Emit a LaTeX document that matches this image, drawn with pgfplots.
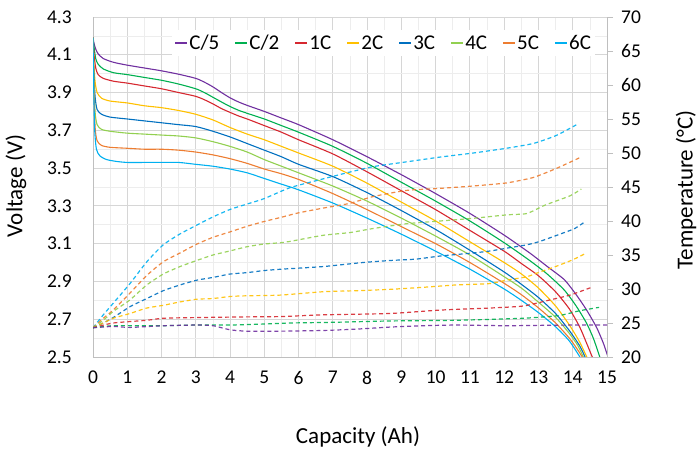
\documentclass[border=0pt]{standalone}
\usepackage{fontspec}
\setmainfont{Carlito}
\usepackage{pgfplots}
\pgfplotsset{compat=1.18}
\definecolor{cPur}{HTML}{7030A0}
\definecolor{cGrn}{HTML}{00B050}
\definecolor{cRed}{HTML}{D62830}
\definecolor{cYel}{HTML}{FFC000}
\definecolor{cBlu}{HTML}{0070C0}
\definecolor{cLgr}{HTML}{92D050}
\definecolor{cOra}{HTML}{ED7D31}
\definecolor{cLbl}{HTML}{00B0F0}
\begin{document}
\begin{tikzpicture}
\useasboundingbox (0pt,0pt) rectangle (698pt,452pt);
\begin{axis}[
  at={(93pt,95pt)}, anchor=south west,
  scale only axis, width=514pt, height=340pt,
  xmin=0, xmax=15, ymin=2.5, ymax=4.3,
  xtick={0,1,...,15},
  minor xtick={0.5,1.5,2.5,3.5,4.5,5.5,6.5,7.5,8.5,9.5,10.5,11.5,12.5,13.5,14.5},
  ytick={2.5,2.7,2.9,3.1,3.3,3.5,3.7,3.9,4.1,4.3},
  minor ytick={2.6,2.8,3.0,3.2,3.4,3.6,3.8,4.0,4.2},
  grid=both,
  major grid style={color=black!16, line width=0.9pt},
  minor grid style={color=black!7, line width=0.7pt},
  axis x line*=bottom, axis y line*=left,
  axis line style={-, color=black!25, line width=0.9pt},
  major tick length=0pt, minor tick length=0pt,
  /pgf/number format/assume math mode=true,
  ticklabel style={font=\fontsize{19.5}{19.5}\selectfont},
  yticklabel style={anchor=east, inner sep=0pt, xshift=-21pt,
    /pgf/number format/fixed, /pgf/number format/fixed zerofill, /pgf/number format/precision=1},
  xticklabel style={anchor=north, inner sep=0pt, yshift=-14pt},
  legend columns=8,
  legend style={draw=none, fill=white, at={(0.978,0.9235)}, anchor=east,
    font=\fontsize{21}{21}\selectfont, inner sep=3pt,
    nodes={inner xsep=1.5pt, inner ysep=2pt},
    /tikz/every even column/.append style={column sep=14pt}},
  legend image code/.code={\draw[#1] (0pt,0pt) -- (12pt,0pt);},
  every axis plot/.append style={line width=1.1pt, smooth, tension=0.4},
]
\addplot[cPur] coordinates {
(0,4.19)(0.03,4.16)(0.08,4.13)(0.15,4.105)(0.3,4.08)(0.6,4.06)(1,4.045)(1.5,4.03)(2,4.015)(2.5,3.997)(3,3.975)(3.25,3.955)(3.5,3.93)(3.75,3.9)(4,3.872)(4.25,3.85)(4.5,3.832)(5,3.80)(5.5,3.765)(6,3.73)(7,3.65)(8,3.56)(9,3.465)(10,3.365)(11,3.26)(12,3.145)(12.75,3.05)(13.25,2.98)(13.75,2.91)(14.1,2.83)(14.4,2.75)(14.7,2.655)(14.9,2.57)(15.03,2.5)};
\addlegendentry{C/5}
\addplot[cGrn] coordinates {
(0,4.19)(0.03,4.14)(0.08,4.08)(0.15,4.05)(0.3,4.025)(0.6,4.005)(1,3.995)(1.5,3.98)(2,3.965)(2.5,3.945)(3,3.92)(3.25,3.9)(3.5,3.875)(3.75,3.85)(4,3.826)(4.25,3.806)(4.5,3.79)(5,3.76)(5.5,3.725)(6,3.69)(7,3.615)(8,3.525)(9,3.425)(10,3.325)(11,3.22)(12,3.105)(12.75,3.01)(13.25,2.94)(13.75,2.855)(14.1,2.77)(14.4,2.68)(14.6,2.6)(14.79,2.5)};
\addlegendentry{C/2}
\addplot[cRed] coordinates {
(0,4.19)(0.03,4.1)(0.08,4.03)(0.15,3.995)(0.3,3.975)(0.6,3.96)(1,3.95)(1.5,3.935)(2,3.92)(2.5,3.9)(3,3.88)(3.25,3.862)(3.5,3.84)(3.75,3.815)(4,3.795)(4.25,3.776)(4.5,3.76)(5,3.725)(5.5,3.69)(6,3.65)(7,3.575)(8,3.48)(9,3.38)(10,3.28)(11,3.17)(12,3.06)(12.5,2.995)(13,2.93)(13.5,2.845)(13.9,2.755)(14.2,2.66)(14.4,2.575)(14.57,2.5)};
\addlegendentry{1C}
\addplot[cYel] coordinates {
(0,4.19)(0.02,4.07)(0.06,3.96)(0.12,3.9)(0.25,3.87)(0.5,3.855)(1,3.845)(1.5,3.83)(2,3.82)(2.5,3.805)(3,3.785)(3.5,3.755)(4,3.715)(4.5,3.68)(5,3.65)(5.5,3.615)(6,3.58)(7,3.51)(8,3.42)(9,3.32)(10,3.22)(11,3.11)(12,3.0)(12.5,2.94)(13,2.865)(13.5,2.77)(13.9,2.67)(14.2,2.58)(14.41,2.5)};
\addlegendentry{2C}
\addplot[cBlu] coordinates {
(0,4.19)(0.02,4.04)(0.06,3.88)(0.12,3.81)(0.25,3.785)(0.5,3.77)(1,3.76)(1.5,3.75)(2,3.74)(2.5,3.73)(3,3.72)(3.5,3.695)(4,3.665)(4.5,3.63)(5,3.595)(5.5,3.56)(6,3.52)(7,3.455)(8,3.37)(9,3.275)(10,3.175)(11,3.065)(12,2.95)(12.5,2.885)(13,2.815)(13.5,2.73)(13.9,2.64)(14.2,2.56)(14.36,2.5)};
\addlegendentry{3C}
\addplot[cLgr] coordinates {
(0,4.19)(0.02,4.01)(0.06,3.8)(0.12,3.73)(0.25,3.705)(0.5,3.695)(1,3.685)(1.5,3.68)(2,3.675)(2.5,3.67)(3,3.66)(3.5,3.64)(4,3.615)(4.5,3.585)(5,3.545)(5.5,3.51)(6,3.475)(7,3.405)(8,3.325)(9,3.235)(10,3.14)(11,3.04)(12,2.925)(12.5,2.865)(13,2.79)(13.5,2.71)(13.9,2.625)(14.15,2.56)(14.31,2.5)};
\addlegendentry{4C}
\addplot[cOra] coordinates {
(0,4.19)(0.02,3.97)(0.06,3.72)(0.12,3.645)(0.25,3.62)(0.5,3.61)(1,3.605)(1.5,3.6)(2,3.6)(2.5,3.595)(3,3.585)(3.5,3.57)(4,3.55)(4.5,3.525)(5,3.495)(5.5,3.47)(6,3.44)(7,3.365)(8,3.28)(9,3.19)(10,3.1)(11,3.0)(12,2.89)(12.5,2.83)(13,2.76)(13.5,2.68)(13.9,2.6)(14.1,2.55)(14.28,2.5)};
\addlegendentry{5C}
\addplot[cLbl] coordinates {
(0,4.19)(0.02,3.93)(0.05,3.7)(0.1,3.6)(0.2,3.565)(0.4,3.545)(0.7,3.535)(1,3.53)(1.5,3.53)(2,3.53)(2.5,3.53)(3,3.52)(3.5,3.51)(4,3.495)(4.5,3.475)(5,3.445)(5.5,3.415)(6,3.385)(7,3.315)(8,3.235)(9,3.15)(10,3.06)(11,2.965)(12,2.86)(12.5,2.8)(13,2.735)(13.5,2.66)(13.9,2.585)(14.21,2.5)};
\addlegendentry{6C}
\end{axis}
\begin{axis}[
  at={(93pt,95pt)}, anchor=south west,
  scale only axis, width=514pt, height=340pt,
  xmin=0, xmax=15, ymin=20, ymax=70,
  ytick={20,25,...,70},
  axis x line=none, axis y line*=right,
  axis line style={-, color=black!25, line width=0.9pt},
  tick style={color=black!25, line width=0.9pt},
  major tick length=6pt, tick align=outside,
  /pgf/number format/assume math mode=true,
  ticklabel style={font=\fontsize{19.5}{19.5}\selectfont},
  yticklabel style={anchor=west, inner sep=0pt, xshift=8pt},
  every axis plot/.append style={line width=1.2pt, dash pattern=on 4pt off 3pt, opacity=0.9, smooth, tension=0.35},
]
\addplot[cLbl] coordinates {(0,24.3)(0.3,26.2)(0.59,27.9)(1.08,30.8)(1.57,34.0)(2.05,36.5)(2.54,38.1)(3.03,39.4)(3.5,40.6)(4.0,41.7)(4.5,42.5)(5,43.3)(5.75,44.9)(6.72,46.2)(7.5,47.2)(8.18,48.0)(9.15,48.7)(10.13,49.4)(11.1,50.0)(12.07,50.7)(12.85,51.4)(13.53,52.6)(14.16,54.3)};
\addplot[cOra] coordinates {(0,24.3)(0.3,25.7)(0.59,26.9)(1.08,29.4)(1.57,32.0)(2.05,34.0)(2.54,35.3)(3.03,36.6)(3.5,37.6)(4.0,38.4)(4.48,39.2)(4.97,39.9)(5.46,40.5)(6.0,41.2)(6.72,41.9)(7.5,42.6)(8.18,43.6)(9.15,44.5)(10.13,44.8)(11.1,45.15)(12.07,45.6)(12.85,46.4)(13.53,47.75)(14.2,49.3)};
\addplot[cLgr] coordinates {(0,24.3)(0.3,25.4)(0.59,26.7)(1.08,28.4)(1.57,30.6)(2.05,32.2)(2.54,33.3)(3.03,34.2)(3.5,35.0)(4,35.6)(4.48,36.2)(4.97,36.6)(5.46,36.8)(5.75,37.0)(6.72,37.9)(7.5,38.3)(8.18,38.9)(9.15,39.6)(10.13,40.0)(11.1,40.4)(12.07,40.9)(12.66,41.1)(13.2,42.35)(13.92,43.7)(14.25,44.7)};
\addplot[cBlu] coordinates {(0,24.3)(0.3,25.0)(0.59,25.8)(1.08,27.4)(1.57,28.6)(2.05,29.75)(2.54,30.6)(3.03,31.3)(3.5,31.7)(4,32.2)(4.48,32.4)(4.97,32.7)(5.46,32.9)(6.72,33.3)(7.89,33.9)(8.7,34.2)(9.44,34.4)(10.13,34.85)(11.1,35.3)(11.6,35.6)(12.07,36.0)(12.66,36.5)(13.04,37.0)(13.7,38.2)(14.06,38.9)(14.36,39.9)};
\addplot[cYel] coordinates {(0,24.3)(0.3,25.0)(0.59,25.7)(1.08,26.4)(1.57,27.2)(2.05,27.6)(2.54,28.1)(3.03,28.5)(3.5,28.6)(4,28.9)(4.48,29.0)(5.46,29.1)(6.72,29.6)(7.69,29.75)(8.67,29.95)(9.64,30.25)(10.61,30.6)(11.58,30.8)(12.07,31.3)(12.66,31.8)(13.04,32.5)(13.5,33.3)(14.0,34.3)(14.4,35.3)};
\addplot[cRed] coordinates {(0,24.3)(0.59,25.0)(1.57,25.4)(2.05,25.7)(3.03,25.8)(4.5,25.9)(5.5,25.95)(6.72,26.2)(8.67,26.4)(10.13,26.9)(11.58,27.2)(12.56,27.5)(13.34,28.4)(13.92,29.1)(14.55,30.25)};
\addplot[cGrn] coordinates {(0,24.3)(0.59,24.6)(2,24.6)(3,24.7)(4,24.7)(5,24.85)(5.75,25.0)(7,25.1)(8.67,25.3)(10.61,25.4)(12.56,25.7)(13.6,26.1)(14.2,26.8)(14.77,27.3)};
\addplot[cPur] coordinates {(0,24.3)(0.59,24.5)(1.08,24.35)(2.05,24.6)(3.03,24.7)(3.5,24.6)(4,24.0)(4.48,23.8)(5.46,23.8)(6.72,23.9)(7.69,24.1)(8.67,24.4)(9.64,24.6)(10.61,24.7)(12,24.6)(13,24.65)(14,24.7)(15,24.7)};
\end{axis}
\node at (358pt,15pt) {\fontsize{23}{23}\selectfont Capacity (Ah)};
\node[rotate=90] at (16pt,266pt) {\fontsize{23}{23}\selectfont Voltage (V)};
\node[rotate=90] at (686pt,262pt) {\fontsize{23}{23}\selectfont Temperature (°C)};
\end{tikzpicture}
\end{document}
